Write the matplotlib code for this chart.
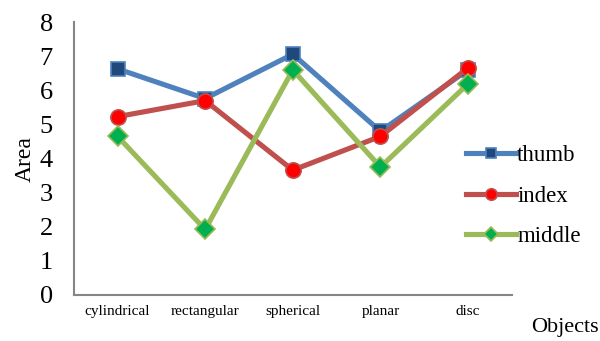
import matplotlib.pyplot as plt
import numpy as np

plt.rcParams['font.family'] = ['Liberation Serif', 'DejaVu Serif']

objects = ['cylindrical', 'rectangular', 'spherical', 'planar', 'disc']
thumb = [6.63, 5.76, 7.06, 4.8, 6.6]
index = [5.23, 5.7, 3.66, 4.65, 6.66]
middle = [4.65, 1.92, 6.6, 3.75, 6.19]

fig = plt.figure(figsize=(6, 3.41), dpi=100)
ax = fig.add_axes([0.123, 0.135, 0.730, 0.800])

x = np.arange(len(objects)) + 0.5
ax.plot(x, thumb, color='#4F81BD', lw=3.7, marker='s', ms=10,
        mfc='#1F497D', mec='#4F81BD', mew=1.2, label='thumb')
ax.plot(x, index, color='#C0504D', lw=3.7, marker='o', ms=11,
        mfc='#FF0000', mec='#C0504D', mew=1.2, label='index')
ax.plot(x, middle, color='#9BBB59', lw=3.7, marker='D', ms=10,
        mfc='#00B050', mec='#9BBB59', mew=1.2, label='middle')

ax.set_xlim(0, 5)
ax.set_ylim(0, 8)
ax.set_xticks(x)
ax.set_xticklabels(objects, fontsize=11)
ax.set_yticks(range(9))
ax.tick_params(axis='y', labelsize=19, length=0, pad=15)
ax.tick_params(axis='x', length=0, pad=7)
for s in ['top', 'right']:
    ax.spines[s].set_visible(False)
for s in ['left', 'bottom']:
    ax.spines[s].set_color('#868686')
    ax.spines[s].set_linewidth(1.5)

ax.set_ylabel('Area', fontsize=17, labelpad=3)
fig.text(0.942, 0.04, 'Objects', fontsize=16, ha='center', va='center')

leg = ax.legend(loc='center left', bbox_to_anchor=(0.757, 0.425), bbox_transform=fig.transFigure,
                frameon=False, fontsize=16.5, handlelength=2.2, handletextpad=0.05,
                labelspacing=0.85, borderpad=0, markerscale=0.75)

fig.savefig('out.png', dpi=100)
